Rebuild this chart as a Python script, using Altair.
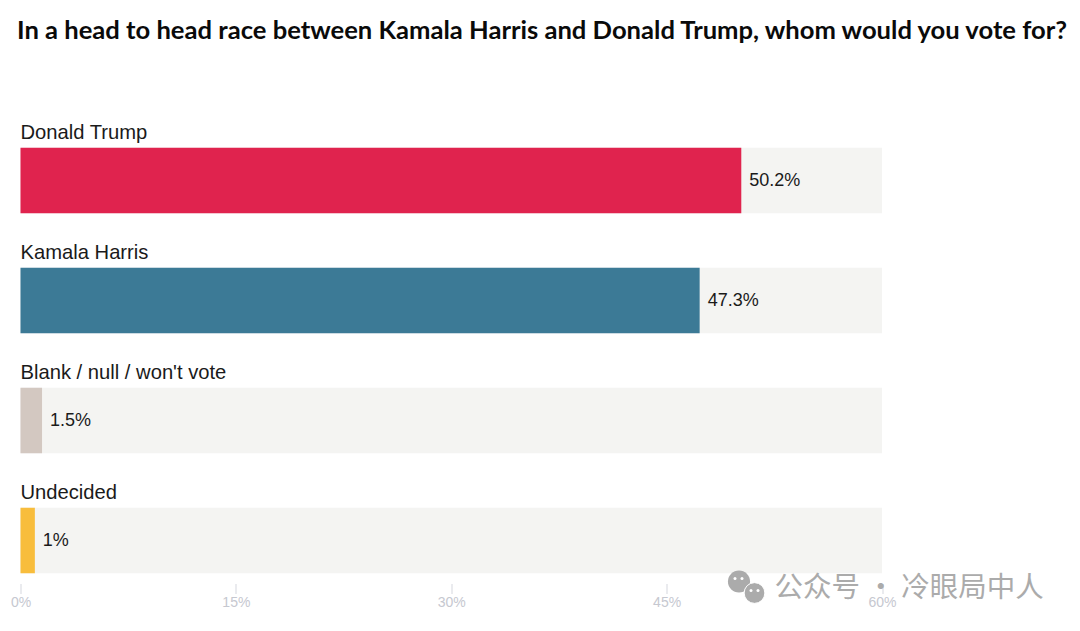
import altair as alt
import pandas as pd

title_text = "In a head to head race between Kamala Harris and Donald Trump, whom would you vote for?"
categories = ["Donald Trump", "Kamala Harris", "Blank / null / won't vote", "Undecided"]
values = [50.2, 47.3, 1.5, 1.0]
value_labels = ["50.2%", "47.3%", "1.5%", "1%"]
colors = ["#E0234E", "#3C7A96", "#D3C8C1", "#F8BD3C"]
axis_max = [60, 60, 60, 60]
tick_values = [0, 15, 30, 45, 60]
watermark = ["公众号 · 冷眼局中人"]

df = pd.DataFrame({"cat": categories, "val": values, "lab": value_labels,
                   "max": axis_max, "col": colors})
wm = pd.DataFrame({"t": watermark})

x = alt.X("val:Q",
          scale=alt.Scale(domain=[0, 60], nice=False, zero=True),
          axis=alt.Axis(values=tick_values, labelExpr="datum.label + '%'", title=None,
                        domain=False, grid=False, offset=-17, tickSize=10, tickWidth=1,
                        tickColor="#D5D7DE", labelColor="#C6C8D0", labelFontSize=14,
                        labelFont="Liberation Sans", labelPadding=2, labelOverlap=False,
                        labelFlush=False))
y = alt.Y("cat:N", sort=categories,
          scale=alt.Scale(paddingInner=0.454, paddingOuter=0.227), axis=None)

track = alt.Chart(df).mark_bar(color="#F4F4F2").encode(x=x, y=y, x2=alt.value(0)).transform_calculate(val="datum.max")
bars = alt.Chart(df).mark_bar().encode(x=x, y=y, color=alt.Color("col:N", scale=None))
names = alt.Chart(df).mark_text(align="left", baseline="middle", dy=-48, font="Liberation Sans",
                                fontSize=20.2, color="#1a1a1a").encode(
    x=alt.value(0), y=y, text="cat:N")
labels = alt.Chart(df).mark_text(align="left", baseline="middle", dx=8, font="Liberation Sans",
                                 fontSize=18, color="#1a1a1a").encode(
    x=x, y=y, text="lab:N")

# watermark: text with the two-bubble icon
mark_wm = alt.Chart(wm).mark_text(
    align="left", baseline="middle", font="Noto Sans CJK SC", fontSize=28.5, color="#ABABAB").encode(
    x=alt.value(754), y=alt.value(467), text="t:N")
icon_big = alt.Chart(wm).mark_circle(size=490, color="#ABABAB", opacity=1).encode(
    x=alt.value(718.5), y=alt.value(461))
icon_small = alt.Chart(wm).mark_circle(size=430, color="#ABABAB", opacity=1, stroke="white", strokeWidth=1).encode(
    x=alt.value(734), y=alt.value(472.5))
eyes = [alt.Chart(wm).mark_circle(size=9, color="white", opacity=1).encode(x=alt.value(ex), y=alt.value(ey))
        for ex, ey in [(714.5, 458), (721.5, 458), (730.5, 470), (737.5, 470)]]

chart = alt.layer(track, bars, names, labels, icon_big, icon_small, *eyes, mark_wm).properties(
    width=861.5, height=480,
    padding={"left": 12.5, "top": 112.5, "right": 190, "bottom": 18},
    autosize=alt.AutoSizeParams(type="none"),
    title=alt.TitleParams(title_text, anchor="start", font="Lato", fontSize=25.6, fontWeight="bold",
                          color="#0a0a0a", frame="group", dx=-3.5, offset=76),
).configure_view(stroke=None)

chart.save("out.html", embed_options={"renderer": "svg", "actions": False})
